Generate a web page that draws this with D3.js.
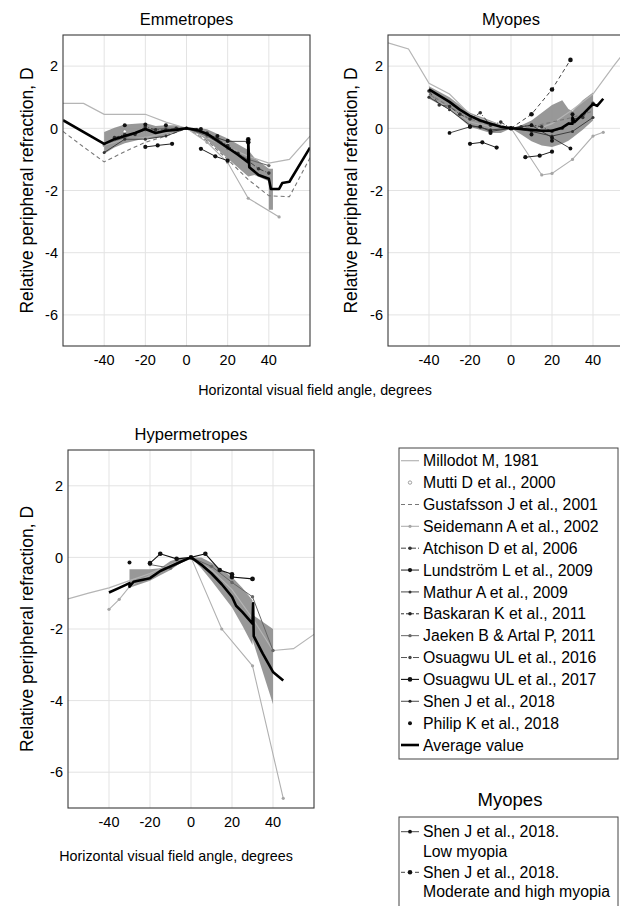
<!DOCTYPE html>
<html>
<head>
<meta charset="utf-8">
<script src="https://cdn.jsdelivr.net/npm/d3@7"></script>
<style>
  body { margin: 0; background: #fff; }
  svg { display: block; font-family: "Liberation Sans", Arial, sans-serif; }
</style>
</head>
<body>
<div id="chart"></div>
<script>
// axis ticks
const angleTicks = [-40, -20, 0, 20, 40];
const refrTicks = [2, 0, -2, -4, -6];

// ---- Emmetropes: [angle, relative refraction D] ----
const emMillodot = [[-60,0.8],[-50,0.8],[-40,0.45],[-30,0.45],[-20,0.45],[-10,0.2],[0,0],[10,-0.3],[20,-0.6],[30,-0.9],[40,-1.12],[50,-1.0],[60,-0.25]];
const emMutti = [[-30,-0.1],[-20,0.1],[-10,0.0],[10,-0.2],[20,-0.5],[30,-1.0]];
const emGustafsson = [[-60,-0.1],[-50,-0.6],[-40,-1.08],[-30,-0.75],[-20,-0.45],[-10,-0.25],[0,0],[10,-0.4],[20,-1.0],[30,-1.65],[40,-2.17],[50,-2.2],[60,-0.95]];
const emSeidemann = [[-40,-0.55],[-30,-0.35],[-20,-0.3],[-10,-0.15],[0,0],[10,-0.45],[20,-1.1],[30,-2.25],[45,-2.85]];
const emAtchison = [[-35,-0.3],[-30,-0.2],[-25,-0.2],[-20,0.05],[-15,-0.05],[-10,-0.05],[-5,0.0],[0,0],[5,-0.05],[10,-0.15],[15,-0.35],[20,-0.55],[25,-0.8],[30,-1.05],[35,-1.3],[40,-1.44]];
const emLundstrom = [[-20,-0.6],[-14,-0.55],[-7,-0.5],null,[7,-0.66],[14,-0.9],[20,-1.04]];
const emMathur = [[-40,-0.78],[-30,-0.35],[-20,-0.35],[-10,-0.25],[0,0],[10,-0.2],[20,-0.42],[30,-0.42]];
const emJaeken = [[-40,-0.5],[-30,-0.3],[-20,-0.05],[-10,0.0],[0,0],[10,-0.25],[20,-0.65],[30,-1.0],[40,-1.2]];
const emOsuagwu17 = [[30,-0.35],[30,-0.45]];
const emPhilip = [[-30,0.1],[-20,0.12],[-10,0.1],[7,-0.02],[15,-0.25],[20,-0.4],[30,-0.4]];
const emAverage = [[-60,0.26],[-40,-0.5],[-35,-0.35],[-30,-0.25],[-25,-0.15],[-20,-0.02],[-15,-0.15],[-10,-0.08],[-5,-0.05],[0,0],[5,-0.05],[10,-0.18],[15,-0.4],[20,-0.62],[25,-0.85],[30,-1.1],[30,-0.35],[30.5,-1.25],[35,-1.5],[40,-1.62],[41,-1.95],[45,-1.95],[46.5,-1.76],[50,-1.72],[60,-0.62]];
const emBand = [[-40,-0.82,-0.12],[-35,-0.62,0.02],[-30,-0.48,0.12],[-20,-0.32,0.17],[-15,-0.32,0.07],[-10,-0.22,0.1],[-5,-0.1,0.1],[0,0,0],[5,-0.17,0.02],[10,-0.38,-0.03],[20,-0.97,-0.33],[30,-1.55,-0.7],[33,-1.5,-0.95],[40,-1.7,-1.3],[40,-2.62,-1.3],[42,-2.62,-1.3]];

// ---- Myopes ----
const myMillodot = [[-60,2.75],[-50,2.55],[-40,1.45],[-30,1.1],[-20,0.45],[-10,0.2],[0,0],[10,-0.1],[20,0.15],[30,0.6],[40,1.1],[50,2.0],[60,2.85]];
const myGustafsson = [[-40,1.1],[-30,0.7],[-20,0.3],[-10,0.1],[0,0],[10,0.05],[20,0.2],[30,0.35],[40,0.55]];
const mySeidemann = [[-40,1.0],[-30,0.65],[-20,0.2],[-10,0.05],[0,0],[15,-1.5],[20,-1.45],[30,-1.0],[40,-0.25],[45,-0.13]];
const myAtchison = [[-40,1.2],[-35,0.75],[-30,0.7],[-25,0.45],[-20,0.3],[-15,0.5],[-10,0.1],[-5,0.2],[0,0],[5,0.05],[10,0.1],[15,0.05],[20,-0.1],[25,0.0],[30,0.3],[35,0.35],[40,0.8]];
const myLundstrom = [[-20,-0.5],[-14,-0.45],[-7,-0.62],null,[7,-0.93],[14,-0.88],[20,-0.75]];
const myMathur = [[-40,1.0],[-30,0.6],[-20,0.1],[-10,-0.05],[0,0],[10,-0.1],[20,-0.25],[30,-0.1],[40,0.35]];
const myShenLow = [[-30,-0.15],[-20,0.05],[-15,0.05],[-10,-0.1],[0,0],[10,0.1],[20,-0.3],[29,-0.65]];
const myShenHigh = [[0,0],[10,0.45],[20,1.25],[29,2.2]];
const myPhilip = [[-20,0.05],[-10,-0.15],[10,-0.2],[20,-0.4],[30,0.45]];
const myAverage = [[-40,1.25],[-35,1.05],[-30,0.85],[-25,0.6],[-20,0.4],[-15,0.25],[-10,0.15],[-5,0.05],[0,0],[5,-0.02],[10,-0.05],[15,-0.08],[20,-0.08],[25,0.02],[28,0.15],[30,0.15],[30,0.35],[31,0.2],[35,0.45],[40,0.78],[42,0.72],[45,0.95]];
const myBand = [[-40,0.95,1.35],[-30,0.6,1.0],[-20,0.05,0.5],[-10,-0.15,0.25],[-5,-0.15,0.12],[0,0,0],[5,-0.2,0.1],[10,-0.42,0.25],[15,-0.55,0.5],[20,-0.6,0.75],[25,-0.5,0.9],[28,-0.4,0.62],[30,-0.3,0.55],[35,-0.05,0.9],[40,0.25,1.15]];

// ---- Hypermetropes ----
const hyMillodot = [[-60,-1.16],[-50,-1.0],[-40,-0.85],[-30,-0.65],[-20,-0.45],[-10,-0.2],[0,0],[10,-0.35],[20,-0.9],[30,-1.7],[40,-2.6],[50,-2.55],[60,-2.15]];
const hySeidemann = [[-40,-1.45],[-35,-1.17],[-30,-0.82],[-20,-0.5],[-10,-0.25],[0,0],[15,-2.0],[30,-3.03],[45,-6.73]];
const hyJaeken = [[-20,-0.2],[-10,-0.3],[0,0],[10,-0.25],[20,-0.7],[30,-1.1],[40,-2.6]];
const hyOsuagwu17 = [[-20,-0.16],[-15,0.1],[-7,-0.04],[0,0],[7,0.1],[14,-0.35],[20,-0.47],[20,-0.55],[30,-0.6]];
const hyPhilip = [[-30,-0.14],[30,-0.6]];
const hyAverage = [[-40,-0.98],[-35,-0.85],[-30,-0.72],[-30,-0.82],[-28,-0.68],[-20,-0.58],[-15,-0.38],[-10,-0.25],[-5,-0.12],[0,0],[5,-0.2],[10,-0.45],[15,-0.75],[20,-1.1],[22,-1.35],[25,-1.52],[30,-1.85],[30.3,-1.28],[30.6,-2.2],[35,-2.69],[40,-3.2],[45,-3.44]];
const hyBand = [[-30,-0.85,-0.33],[-20,-0.65,-0.33],[-15,-0.5,-0.3],[-10,-0.35,-0.1],[-5,-0.15,-0.02],[0,0,0],[5,-0.3,0],[10,-0.65,-0.15],[20,-1.4,-0.55],[25,-1.9,-0.85],[30,-2.45,-1.2],[30,-2.3,-1.6],[40,-4.1,-2.0]];

// legend entries
const legendNames = ["Millodot M, 1981","Mutti D et al., 2000","Gustafsson J et al., 2001","Seidemann A et al., 2002","Atchison D et al, 2006","Lundström L et al., 2009","Mathur A et al., 2009","Baskaran K et al., 2011","Jaeken B & Artal P, 2011","Osuagwu UL et al., 2016","Osuagwu UL et al., 2017","Shen J et al., 2018","Philip K et al., 2018","Average value"];
const legendKeys = ["millodot","mutti","gustafsson","seidemann","atchison","lundstrom","mathur","baskaran","jaeken","osuagwu16","osuagwu17","shen","philip","average"];
const myopesLegend = [["Shen J et al., 2018.","Low myopia"],["Shen J et al., 2018.","Moderate and high myopia"]];
const myopesLegendKeys = ["shenLow","shenHigh"];

// line / marker styles
const styles = {
  millodot:   {stroke: "#b5b5b5", w: 1.2},
  mutti:      {stroke: "none", m: {r: 1.7, fill: "#fff", stroke: "#888"}},
  gustafsson: {stroke: "#777", w: 1.1, dash: "4,3"},
  seidemann:  {stroke: "#b0b0b0", w: 1.1, m: {r: 1.6, fill: "#a5a5a5"}},
  atchison:   {stroke: "#444", w: 1, dash: "5,2,1,2", m: {r: 1.8, fill: "#333"}},
  lundstrom:  {stroke: "#222", w: 1, m: {r: 2.1, fill: "#111"}},
  mathur:     {stroke: "#333", w: 0.9, m: {r: 1.5, fill: "#333"}},
  baskaran:   {stroke: "#333", w: 1, dash: "3,2", m: {r: 1.8, fill: "#222"}},
  jaeken:     {stroke: "#666", w: 1, m: {r: 1.7, fill: "#666"}},
  osuagwu16:  {stroke: "#555", w: 1, dash: "6,2,2,2", m: {r: 1.7, fill: "#444"}},
  osuagwu17:  {stroke: "#111", w: 1.1, m: {r: 2.3, fill: "#111"}},
  shen:       {stroke: "#333", w: 0.9, m: {r: 1.6, fill: "#222"}},
  philip:     {stroke: "none", m: {r: 2, fill: "#111"}},
  average:    {stroke: "#000", w: 2.6},
  shenLow:    {stroke: "#333", w: 0.9, m: {r: 1.9, fill: "#111"}},
  shenHigh:   {stroke: "#444", w: 1, dash: "4,3", m: {r: 2.3, fill: "#111"}}
};

const W = 620, H = 906;
const svg = d3.select("#chart").append("svg").attr("width", W).attr("height", H);

const panels = [
  {title: "Emmetropes", left: 63, top: 35, width: 247, height: 311, labX: 33,
   band: emBand, avg: emAverage,
   series: [["millodot", emMillodot], ["gustafsson", emGustafsson], ["seidemann", emSeidemann], ["mutti", emMutti],
            ["jaeken", emJaeken], ["atchison", emAtchison], ["mathur", emMathur], ["lundstrom", emLundstrom],
            ["osuagwu17", emOsuagwu17], ["philip", emPhilip]]},
  {title: "Myopes", left: 388, top: 35, width: 246, height: 311, labX: 357,
   band: myBand, avg: myAverage,
   series: [["millodot", myMillodot], ["gustafsson", myGustafsson], ["seidemann", mySeidemann], ["atchison", myAtchison],
            ["mathur", myMathur], ["lundstrom", myLundstrom], ["shenLow", myShenLow], ["shenHigh", myShenHigh], ["philip", myPhilip]]},
  {title: "Hypermetropes", left: 68, top: 450, width: 246, height: 358, labX: 33,
   band: hyBand, avg: hyAverage,
   series: [["millodot", hyMillodot], ["seidemann", hySeidemann], ["jaeken", hyJaeken], ["osuagwu17", hyOsuagwu17], ["philip", hyPhilip]]}
];

panels.forEach((p, i) => drawPanel(p, i));

function drawPanel(p, i) {
  const x = d3.scaleLinear().domain([-60, 60]).range([p.left, p.left + p.width]);
  const y = d3.scaleLinear().domain([-7, 3]).range([p.top + p.height, p.top]);

  svg.append("clipPath").attr("id", "clip" + i)
    .append("rect").attr("x", p.left).attr("y", p.top).attr("width", p.width).attr("height", p.height);

  const g = svg.append("g");

  // grid
  g.selectAll(".gx").data(angleTicks).join("line")
    .attr("x1", d => x(d)).attr("x2", d => x(d)).attr("y1", p.top).attr("y2", p.top + p.height)
    .attr("stroke", "#e3e3e3").attr("stroke-width", 1);
  g.selectAll(".gy").data(refrTicks).join("line")
    .attr("x1", p.left).attr("x2", p.left + p.width).attr("y1", d => y(d)).attr("y2", d => y(d))
    .attr("stroke", "#e3e3e3").attr("stroke-width", 1);

  const plot = g.append("g").attr("clip-path", `url(#clip${i})`);

  // std band
  const area = d3.area().x(d => x(d[0])).y0(d => y(d[1])).y1(d => y(d[2]));
  plot.append("path").datum(p.band).attr("d", area).attr("fill", "#8a8a8a").attr("fill-opacity", 0.88);

  const line = d3.line().defined(d => d !== null).x(d => x(d[0])).y(d => y(d[1]));

  p.series.forEach(([key, data]) => {
    const s = styles[key];
    if (s.stroke !== "none") {
      plot.append("path").datum(data).attr("d", line)
        .attr("fill", "none").attr("stroke", s.stroke).attr("stroke-width", s.w)
        .attr("stroke-dasharray", s.dash || null);
    }
    if (s.m) {
      plot.selectAll(null).data(data.filter(d => d !== null)).join("circle")
        .attr("cx", d => x(d[0])).attr("cy", d => y(d[1])).attr("r", s.m.r)
        .attr("fill", s.m.fill).attr("stroke", s.m.stroke || "none").attr("stroke-width", 0.8);
    }
  });

  plot.append("path").datum(p.avg).attr("d", line)
    .attr("fill", "none").attr("stroke", styles.average.stroke).attr("stroke-width", styles.average.w)
    .attr("stroke-linejoin", "round");

  // box
  g.append("rect").attr("x", p.left).attr("y", p.top).attr("width", p.width).attr("height", p.height)
    .attr("fill", "none").attr("stroke", "#3a3a3a").attr("stroke-width", 1.1);

  // tick labels
  g.selectAll(".tx").data(angleTicks).join("text")
    .attr("x", d => x(d)).attr("y", p.top + p.height + 19)
    .attr("text-anchor", "middle").attr("font-size", 14.5).attr("fill", "#000")
    .text(d => d);
  g.selectAll(".ty").data(refrTicks).join("text")
    .attr("x", p.left - 5).attr("y", d => y(d)).attr("dy", "0.36em")
    .attr("text-anchor", "end").attr("font-size", 14.5).attr("fill", "#000")
    .text(d => d);

  // title
  g.append("text").attr("x", x(0)).attr("y", p.top - 10)
    .attr("text-anchor", "middle").attr("font-size", 16.5).attr("fill", "#000").text(p.title);

  // y label
  g.append("text")
    .attr("transform", `translate(${p.labX},${p.top + p.height / 2}) rotate(-90)`)
    .attr("text-anchor", "middle").attr("font-size", 17.5).attr("fill", "#000")
    .text("Relative peripheral refraction, D");
}

// x-axis labels
svg.append("text").attr("x", 315).attr("y", 395).attr("text-anchor", "middle")
  .attr("font-size", 14.3).attr("fill", "#000").text("Horizontal visual field angle, degrees");
svg.append("text").attr("x", 176).attr("y", 861).attr("text-anchor", "middle")
  .attr("font-size", 14.3).attr("fill", "#000").text("Horizontal visual field angle, degrees");

// legend symbol helper
function legendSymbol(g, key, cy) {
  const s = styles[key];
  if (s.stroke !== "none") {
    g.append("line").attr("x1", 401).attr("x2", 419).attr("y1", cy).attr("y2", cy)
      .attr("stroke", s.stroke).attr("stroke-width", s.w).attr("stroke-dasharray", s.dash || null);
  }
  if (s.m) {
    g.append("circle").attr("cx", 410).attr("cy", cy).attr("r", s.m.r)
      .attr("fill", s.m.fill).attr("stroke", s.m.stroke || "none").attr("stroke-width", 0.8);
  }
}

// main legend
const leg = svg.append("g");
leg.append("rect").attr("x", 399).attr("y", 448).attr("width", 219).attr("height", 311)
  .attr("fill", "#fff").attr("stroke", "#444").attr("stroke-width", 1);
legendNames.forEach((name, k) => {
  const cy = 460.7 + k * 21.87;
  legendSymbol(leg, legendKeys[k], cy);
  leg.append("text").attr("x", 423).attr("y", cy).attr("dy", "0.36em")
    .attr("font-size", 15.8).attr("fill", "#000").text(name);
});

// myopes legend
svg.append("text").attr("x", 510).attr("y", 806).attr("text-anchor", "middle")
  .attr("font-size", 18.5).attr("fill", "#000").text("Myopes");
const leg2 = svg.append("g");
leg2.append("rect").attr("x", 399).attr("y", 817).attr("width", 219).attr("height", 100)
  .attr("fill", "#fff").attr("stroke", "#444").attr("stroke-width", 1);
myopesLegend.forEach((lines, k) => {
  const cy = 831.7 + k * 40.6;
  legendSymbol(leg2, myopesLegendKeys[k], cy);
  lines.forEach((t, j) => {
    leg2.append("text").attr("x", 423).attr("y", cy + j * 19.5).attr("dy", "0.36em")
      .attr("font-size", 15.8).attr("fill", "#000").text(t);
  });
});
</script>
</body>
</html>
